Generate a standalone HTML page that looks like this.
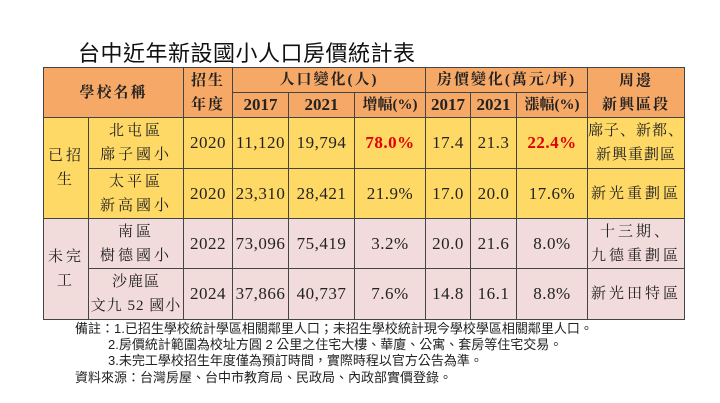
<!DOCTYPE html>
<html><head><meta charset="utf-8">
<style>
body{margin:0;width:720px;height:403px;background:#fff;position:relative;overflow:hidden;font-family:"Liberation Serif","Noto Serif CJK SC",serif;}
#title{position:absolute;left:78px;top:36px;font:22px "Liberation Sans","Noto Sans CJK TC",sans-serif;color:#111;letter-spacing:0.5px;}
table{position:absolute;left:43px;top:67px;border-collapse:collapse;table-layout:fixed;}
td{border:1.5px solid #444;text-align:center;padding:0;color:#222;font-size:16px;line-height:24px;overflow:hidden;white-space:nowrap;}
.h{background:#F6A866;font-weight:bold;font-size:15px;letter-spacing:2px;}
.y{background:#FFD966;}
.p{background:#F2DCDB;}
.n{font-size:17px;letter-spacing:0.5px;}
.c{letter-spacing:3px;font-size:15px;}
.red{color:#e00000;font-weight:bold;}
.note{position:absolute;font:13px "Liberation Sans","Noto Sans CJK TC",sans-serif;color:#222;white-space:nowrap;}
</style></head><body>
<div id="title">台中近年新設國小人口房價統計表</div>
<table>
<colgroup><col style="width:45px"><col style="width:95px"><col style="width:49px"><col style="width:56px"><col style="width:66px"><col style="width:71px"><col style="width:45px"><col style="width:46px"><col style="width:71px"><col style="width:95px"></colgroup>
<tr style="height:25px">
<td class="h" colspan="2" rowspan="2">學校名稱</td>
<td class="h" rowspan="2">招生<br>年度</td>
<td class="h" colspan="3">人口變化(人)</td>
<td class="h" colspan="3">房價變化(萬元/坪)</td>
<td class="h" rowspan="2">周邊<br>新興區段</td>
</tr>
<tr style="height:25px">
<td class="h n" style="letter-spacing:0">2017</td>
<td class="h n" style="letter-spacing:0">2021</td>
<td class="h" style="letter-spacing:0">增幅(%)</td>
<td class="h n" style="letter-spacing:0">2017</td>
<td class="h n" style="letter-spacing:0">2021</td>
<td class="h" style="letter-spacing:0">漲幅(%)</td>
</tr>
<tr style="height:51px" class="y">
<td class="y c" rowspan="2">已招<br>生</td>
<td class="y c">北屯區<br>廍子國小</td><td class="n">2020</td><td class="n">11,120</td><td class="n">19,794</td><td class="n red">78.0%</td><td class="n">17.4</td><td class="n">21.3</td><td class="n red">22.4%</td><td class="c" style="letter-spacing:1px">廍子、新都、<br>新興重劃區</td>
</tr>
<tr style="height:50px" class="y">
<td class="c">太平區<br>新高國小</td><td class="n">2020</td><td class="n">23,310</td><td class="n">28,421</td><td class="n">21.9%</td><td class="n">17.0</td><td class="n">20.0</td><td class="n">17.6%</td><td class="c">新光重劃區</td>
</tr>
<tr style="height:50px" class="p">
<td class="p c" rowspan="2">未完<br>工</td>
<td class="c">南區<br>樹德國小</td><td class="n">2022</td><td class="n">73,096</td><td class="n">75,419</td><td class="n">3.2%</td><td class="n">20.0</td><td class="n">21.6</td><td class="n">8.0%</td><td class="c">十三期、<br>九德重劃區</td>
</tr>
<tr style="height:51px" class="p">
<td class="c" style="letter-spacing:1px">沙鹿區<br>文九 52 國小</td><td class="n">2024</td><td class="n">37,866</td><td class="n">40,737</td><td class="n">7.6%</td><td class="n">14.8</td><td class="n">16.1</td><td class="n">8.8%</td><td class="c">新光田特區</td>
</tr>
</table>
<div class="note" style="left:75px;top:318px">備註：1.已招生學校統計學區相關鄰里人口；未招生學校統計現今學校學區相關鄰里人口。</div>
<div class="note" style="left:108px;top:334px">2.房價統計範圍為校址方圓 2 公里之住宅大樓、華廈、公寓、套房等住宅交易。</div>
<div class="note" style="left:108px;top:350px">3.未完工學校招生年度僅為預訂時間，實際時程以官方公告為準。</div>
<div class="note" style="left:75px;top:367px">資料來源：台灣房屋、台中市教育局、民政局、內政部實價登錄。</div>
</body></html>
